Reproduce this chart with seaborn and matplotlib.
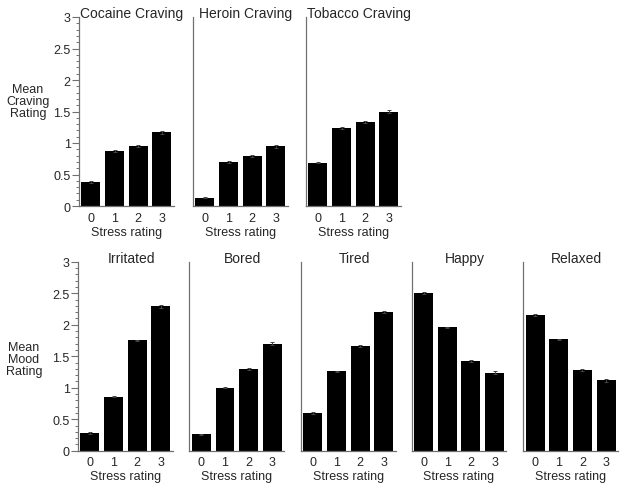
import matplotlib
matplotlib.use("Agg")
import matplotlib.pyplot as plt
import seaborn as sns
import pandas as pd
from matplotlib.ticker import MultipleLocator

sns.set_style("white")
plt.rcParams['font.family'] = ['Liberation Sans', 'DejaVu Sans']

stress_levels = ["0", "1", "2", "3"]

craving_titles = ["Cocaine Craving", "Heroin Craving", "Tobacco Craving"]
cocaine = [0.38, 0.87, 0.95, 1.17]
heroin = [0.13, 0.70, 0.79, 0.95]
tobacco = [0.69, 1.24, 1.34, 1.50]
cocaine_se = [0.01, 0.015, 0.015, 0.025]
heroin_se = [0.01, 0.01, 0.015, 0.025]
tobacco_se = [0.015, 0.015, 0.015, 0.02]

mood_titles = ["Irritated", "Bored", "Tired", "Happy", "Relaxed"]
irritated = [0.28, 0.86, 1.75, 2.29]
bored = [0.26, 1.00, 1.30, 1.70]
tired = [0.60, 1.26, 1.66, 2.20]
happy = [2.51, 1.96, 1.42, 1.24]
relaxed = [2.16, 1.77, 1.28, 1.12]
irritated_se = [0.01, 0.01, 0.015, 0.025]
bored_se = [0.01, 0.01, 0.015, 0.02]
tired_se = [0.01, 0.01, 0.01, 0.02]
happy_se = [0.015, 0.01, 0.015, 0.03]
relaxed_se = [0.015, 0.01, 0.01, 0.025]

x_label = "Stress rating"
craving_ylabel = "Mean\nCraving\nRating"
mood_ylabel = "Mean\nMood\nRating"
y_ticks = [0, 0.5, 1, 1.5, 2, 2.5, 3]
y_ticklabels = ["0", "0.5", "1", "1.5", "2", "2.5", "3"]

W, H = 624, 489
fig = plt.figure(figsize=(W / 100, H / 100), dpi=100)

spine_col = "#707070"
axw = 94.7

def draw(left_px, top_px, bottom_px, title, vals, se, first):
    ax = fig.add_axes([left_px / W, 1 - bottom_px / H, axw / W, (bottom_px - top_px) / H])
    df = pd.DataFrame({"stress": stress_levels, "value": vals})
    sns.barplot(data=df, x="stress", y="value", order=stress_levels, color="black",
                saturation=1, width=0.8, errorbar=None, ax=ax, edgecolor="black", linewidth=0)
    ax.errorbar(range(len(vals)), vals, yerr=se, fmt="none", ecolor="#444444",
                elinewidth=0.7, capsize=1.5, capthick=0.7)
    ax.set_xlim(-0.5, 3.5)
    ax.set_ylim(0, 3)
    ax.set_xlabel(x_label, fontsize=9, labelpad=1.5)
    ax.set_ylabel("")
    ax.set_title(title, fontsize=10, pad=0, x=0.56)
    for s in ["top", "right"]:
        ax.spines[s].set_visible(False)
    for s in ["left", "bottom"]:
        ax.spines[s].set_color(spine_col)
        ax.spines[s].set_linewidth(0.9)
    ax.tick_params(axis="x", length=0, labelsize=9, pad=4)
    if first:
        ax.set_yticks(y_ticks)
        ax.set_yticklabels(y_ticklabels)
        ax.yaxis.set_minor_locator(MultipleLocator(0.1))
        ax.tick_params(axis="y", which="major", length=5, width=0.8, color=spine_col,
                       labelsize=9, pad=1, left=True)
        ax.tick_params(axis="y", which="minor", length=2.5, width=0.7, color=spine_col, left=True)
    else:
        ax.set_yticks([])
    return ax

top_lefts = [79, 193, 306]
craving_vals = [cocaine, heroin, tobacco]
craving_se = [cocaine_se, heroin_se, tobacco_se]
for i, (t, v, e) in enumerate(zip(craving_titles, craving_vals, craving_se)):
    draw(top_lefts[i], 18, 207, t, v, e, i == 0)

bottom_lefts = [78, 189.5, 301, 411.7, 523.3]
mood_vals = [irritated, bored, tired, happy, relaxed]
mood_se = [irritated_se, bored_se, tired_se, happy_se, relaxed_se]
for i, (t, v, e) in enumerate(zip(mood_titles, mood_vals, mood_se)):
    draw(bottom_lefts[i], 262.7, 451.7, t, v, e, i == 0)

fig.text(28 / W, 1 - 102 / H, craving_ylabel, ha="center", va="center", fontsize=9, linespacing=1.0)
fig.text(24 / W, 1 - 360 / H, mood_ylabel, ha="center", va="center", fontsize=9, linespacing=1.0)

fig.savefig("out.png", dpi=100, facecolor="white")
